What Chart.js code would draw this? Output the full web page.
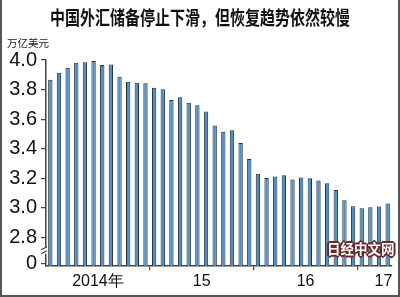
<!DOCTYPE html>
<html>
<head>
<meta charset="utf-8">
<script src="https://cdn.jsdelivr.net/npm/chart.js@4/dist/chart.umd.min.js"></script>
<style>
  html, body { margin: 0; padding: 0; background: #fff; }
  #wrap { position: relative; width: 400px; height: 297px; box-sizing: border-box;
          border-left: 2px solid #555; border-right: 2px solid #555; border-bottom: 2px solid #555; overflow: hidden; }
  #chart { position: absolute; left: -2px; top: 0; }
  #title { position: absolute; left: 0; top: 3px; width: 396px; text-align: center;
           font: bold 19px "Noto Sans CJK SC", sans-serif; color: #111; transform: scaleX(0.79); }
  #unit { position: absolute; left: 5px; top: 35px; font: 10.5px "Noto Sans CJK SC", sans-serif; color: #222; }
  #logo { position: absolute; left: 325px; top: 238px; font: bold 13.5px "Noto Sans CJK SC", sans-serif; color: #fff;
          text-shadow: -1px -1px 0 #6a2a2a, 1px -1px 0 #6a2a2a, -1px 1px 0 #6a2a2a, 1px 1px 0 #6a2a2a,
                       0 -2px 0 #6a2a2a, 0 2px 0 #6a2a2a, -2px 0 0 #6a2a2a, 2px 0 0 #6a2a2a; }
</style>
</head>
<body>
<div id="wrap">
  <canvas id="chart" width="400" height="297"></canvas>
  <div id="title">中国外汇储备停止下滑，但恢复趋势依然较慢</div>
  <div id="unit">万亿美元</div>
  <div id="logo">日经中文网</div>
</div>
<script>
// monthly FX reserves, trillion USD, Jan 2014 - Apr 2017
const months = [];
for (let y = 2014; y <= 2017; y++) {
    for (let m = 1; m <= 12; m++) {
        if (y === 2017 && m > 4) break;
        months.push(y + '-' + String(m).padStart(2, '0'));
    }
}
const reserves = [
    3.866, 3.914, 3.948, 3.981, 3.984, 3.993, 3.966, 3.969, 3.887, 3.853, 3.847, 3.843,
    3.813, 3.802, 3.730, 3.748, 3.711, 3.694, 3.651, 3.557, 3.514, 3.525, 3.438, 3.330,
    3.231, 3.202, 3.213, 3.220, 3.192, 3.205, 3.201, 3.185, 3.166, 3.121, 3.052, 3.011,
    2.998, 3.005, 3.009, 3.030
];
const yearLabels = ['2014年', '15', '16', '17'];
const yearLabelAt = [6, 18, 30, 39];   // category index that carries each year label
const yearBoundaries = [12, 24, 36];   // first month of each new year
const yTicks = [2.8, 3.0, 3.2, 3.4, 3.6, 3.8, 4.0];
const zeroTick = 2.625;                // where the broken axis shows "0"

const axisColor = '#444';

// the little break marks on the y axis between 0 and 2.8
const axisBreak = {
    id: 'axisBreak',
    afterDraw(chart) {
        const ctx = chart.ctx;
        const x = chart.scales.y.right;
        const yMid = chart.scales.y.getPixelForValue(2.71);
        ctx.save();
        ctx.fillStyle = '#fff';
        ctx.fillRect(x - 3, yMid - 3, 4, 6);
        ctx.strokeStyle = axisColor;
        ctx.lineWidth = 1.2;
        ctx.beginPath();
        ctx.moveTo(x - 5, yMid - 1); ctx.lineTo(x + 1, yMid - 4);
        ctx.moveTo(x - 5, yMid + 3); ctx.lineTo(x + 1, yMid);
        ctx.stroke();
        ctx.restore();
    }
};

new Chart(document.getElementById('chart'), {
    type: 'bar',
    data: {
        labels: months,
        datasets: [{
            data: reserves,
            backgroundColor: '#4b90c9',
            borderColor: '#2b2b2b',
            borderWidth: 1,
            barPercentage: 0.5,
            categoryPercentage: 1.0
        }]
    },
    options: {
        responsive: false,
        animation: false,
        layout: { padding: { left: 0, top: 60, right: 8, bottom: 0 } },
        plugins: { legend: { display: false }, tooltip: { enabled: false } },
        scales: {
            x: {
                grid: {
                    offset: true,
                    drawOnChartArea: false,
                    tickLength: 4,
                    color: ctx => yearBoundaries.includes(ctx.index) ? axisColor : 'rgba(0,0,0,0)',
                    lineWidth: 1.2
                },
                border: { color: axisColor, width: 1.5 },
                ticks: {
                    autoSkip: false,
                    maxRotation: 0,
                    labelOffset: -4.3,
                    padding: 2,
                    color: '#111',
                    font: { family: 'Liberation Sans Narrow, Liberation Sans, Arial', size: 16 },
                    callback: (val, i) => {
                        const k = yearLabelAt.indexOf(i);
                        return k >= 0 ? yearLabels[k] : '';
                    }
                },
                afterFit: s => { s.height = 31; }
            },
            y: {
                min: 2.607,
                max: 4.0,
                grid: { drawOnChartArea: false, tickLength: 5, color: axisColor, lineWidth: 1.2 },
                border: { color: axisColor, width: 1.5 },
                afterBuildTicks: s => {
                    s.ticks = [{ value: zeroTick }].concat(yTicks.map(v => ({ value: v })));
                },
                ticks: {
                    padding: 4,
                    color: '#111',
                    font: { family: 'Liberation Sans Narrow, Liberation Sans, Arial', size: 20 },
                    callback: v => v < 2.7 ? '0' : v.toFixed(1)
                },
                afterFit: s => { s.width = 46; }
            }
        }
    },
    plugins: [axisBreak]
});
</script>
</body>
</html>
